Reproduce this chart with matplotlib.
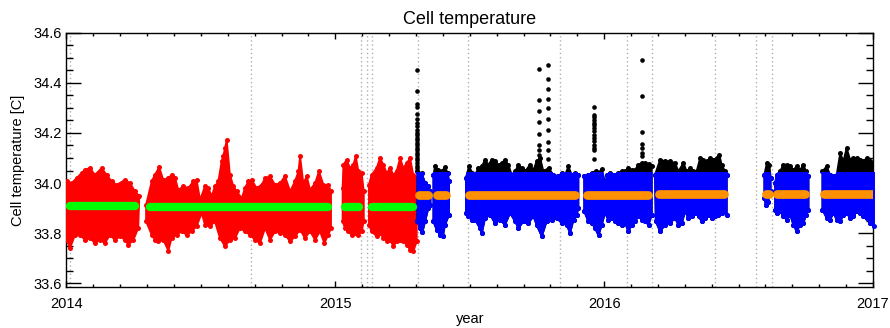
import numpy as np
import matplotlib
matplotlib.use("Agg")
from matplotlib import pyplot as plt
from matplotlib.patches import Rectangle
from matplotlib.ticker import MultipleLocator, FormatStrFormatter

plt.rcParams["font.family"] = ["Liberation Sans", "DejaVu Sans"]

# --- red period (2014 - mid 2015): upper / lower envelope of the scatter ---
r1_t_hi = [2014.001, 2014.019, 2014.038, 2014.056, 2014.069, 2014.087, 2014.106, 2014.131,
           2014.149, 2014.168, 2014.187, 2014.218, 2014.236, 2014.255, 2014.271]
r1_hi = [34.009, 34.000, 34.020, 34.040, 34.053, 34.060, 34.033, 34.060,
         34.033, 34.007, 33.993, 34.013, 34.000, 33.967, 33.947]
r1_t_lo = [2014.001, 2014.013, 2014.032, 2014.050, 2014.069, 2014.087, 2014.106, 2014.125,
           2014.143, 2014.162, 2014.180, 2014.199, 2014.218, 2014.230, 2014.249, 2014.267]
r1_lo = [33.773, 33.740, 33.793, 33.793, 33.773, 33.780, 33.760, 33.773,
         33.760, 33.793, 33.773, 33.787, 33.773, 33.753, 33.773, 33.820]

r2_t_hi = [2014.296, 2014.317, 2014.329, 2014.345, 2014.360, 2014.379, 2014.391, 2014.404,
           2014.416, 2014.435, 2014.453, 2014.472, 2014.484, 2014.497, 2014.515, 2014.528,
           2014.540, 2014.552, 2014.565, 2014.577, 2014.583, 2014.590, 2014.596, 2014.608,
           2014.621, 2014.633, 2014.652, 2014.664, 2014.676, 2014.689, 2014.707, 2014.726,
           2014.739, 2014.757, 2014.776, 2014.794, 2014.813, 2014.832, 2014.850, 2014.863,
           2014.869, 2014.881, 2014.894, 2014.906, 2014.925, 2014.939, 2014.956, 2014.974,
           2014.984]
r2_hi = [33.913, 34.007, 34.033, 34.063, 34.013, 34.020, 34.033, 34.020,
         33.973, 33.987, 33.980, 34.007, 34.013, 33.933, 33.987, 33.980,
         33.947, 33.987, 34.007, 34.087, 34.107, 34.140, 34.173, 34.033,
         33.987, 33.967, 33.940, 33.980, 34.007, 34.013, 33.980, 33.993,
         34.020, 34.027, 33.993, 34.000, 34.027, 33.967, 34.007, 34.047,
         34.107, 34.000, 34.027, 33.973, 34.000, 34.047, 33.993, 33.993,
         33.967]
r2_t_lo = [2014.296, 2014.317, 2014.329, 2014.342, 2014.360, 2014.379, 2014.391, 2014.410,
           2014.428, 2014.447, 2014.466, 2014.484, 2014.503, 2014.515, 2014.534, 2014.552,
           2014.571, 2014.590, 2014.608, 2014.627, 2014.645, 2014.664, 2014.683, 2014.701,
           2014.720, 2014.739, 2014.757, 2014.776, 2014.794, 2014.813, 2014.832, 2014.850,
           2014.869, 2014.887, 2014.906, 2014.925, 2014.943, 2014.959, 2014.974, 2014.984]
r2_lo = [33.847, 33.793, 33.773, 33.767, 33.773, 33.730, 33.780, 33.793,
         33.807, 33.793, 33.807, 33.827, 33.880, 33.833, 33.827, 33.847,
         33.780, 33.747, 33.773, 33.780, 33.820, 33.807, 33.793, 33.773,
         33.760, 33.820, 33.773, 33.807, 33.800, 33.793, 33.767, 33.787,
         33.813, 33.780, 33.807, 33.773, 33.807, 33.760, 33.793, 33.820]

r3_t_hi = [2015.027, 2015.030, 2015.042, 2015.055, 2015.067, 2015.076, 2015.086, 2015.098, 2015.106]
r3_hi = [33.980, 34.073, 34.093, 34.060, 34.073, 34.107, 34.047, 34.040, 33.967]
r3_t_lo = [2015.027, 2015.036, 2015.048, 2015.061, 2015.073, 2015.086, 2015.098, 2015.106]
r3_lo = [33.847, 33.820, 33.807, 33.793, 33.800, 33.793, 33.807, 33.847]

r4_t = [2015.125, 2015.135, 2015.154, 2015.166, 2015.179, 2015.191, 2015.204, 2015.216,
        2015.228, 2015.241, 2015.253, 2015.266, 2015.278, 2015.290, 2015.303]
r4_hi = [33.993, 34.033, 34.060, 34.100, 34.073, 34.040, 34.060, 34.033,
         34.047, 34.100, 34.060, 34.080, 34.100, 34.033, 34.020]
r4_lo = [33.833, 33.807, 33.787, 33.800, 33.780, 33.767, 33.773, 33.747,
         33.767, 33.773, 33.767, 33.753, 33.733, 33.727, 33.767]

# --- blue period (mid 2015 - 2017), upper envelope includes the black points ---
b1_t_hi = [2015.305, 2015.321, 2015.334, 2015.346, 2015.354]
b1_hi = [34.047, 34.040, 34.000, 33.987, 33.967]
b1_t_lo = [2015.305, 2015.315, 2015.324, 2015.334, 2015.346, 2015.354]
b1_lo = [33.847, 33.820, 33.804, 33.847, 33.900, 33.913]

b2_t_hi = [2015.365, 2015.371, 2015.383, 2015.396, 2015.408, 2015.418, 2015.423]
b2_hi = [34.033, 34.067, 34.053, 34.047, 34.063, 34.040, 34.007]
b2_t_lo = [2015.365, 2015.377, 2015.390, 2015.400, 2015.408, 2015.423]
b2_lo = [33.847, 33.813, 33.793, 33.787, 33.833, 33.873]

b3_t_hi = [2015.486, 2015.497, 2015.510, 2015.520, 2015.532, 2015.545, 2015.557, 2015.569,
           2015.582, 2015.594, 2015.607, 2015.619, 2015.631, 2015.644, 2015.656, 2015.669,
           2015.681, 2015.693, 2015.706, 2015.724, 2015.737, 2015.749, 2015.762, 2015.774,
           2015.793, 2015.811, 2015.830, 2015.842, 2015.855, 2015.867, 2015.879, 2015.892,
           2015.904]
b3_hi = [34.020, 34.067, 34.040, 34.033, 34.060, 34.067, 34.093, 34.073,
         34.093, 34.087, 34.073, 34.080, 34.093, 34.073, 34.033, 34.047,
         34.073, 34.060, 34.047, 34.073, 34.053, 34.087, 34.100, 34.047,
         34.060, 34.033, 34.027, 34.040, 34.033, 34.067, 34.033, 34.040,
         34.033]
b3_t_lo = [2015.486, 2015.495, 2015.507, 2015.520, 2015.538, 2015.545, 2015.557, 2015.576,
           2015.594, 2015.613, 2015.631, 2015.650, 2015.669, 2015.681, 2015.700, 2015.718,
           2015.737, 2015.749, 2015.768, 2015.786, 2015.805, 2015.824, 2015.842, 2015.861,
           2015.873, 2015.886, 2015.898, 2015.904]
b3_lo = [33.880, 33.867, 33.853, 33.853, 33.820, 33.800, 33.860, 33.873,
         33.840, 33.853, 33.833, 33.880, 33.847, 33.820, 33.847, 33.840,
         33.867, 33.833, 33.787, 33.847, 33.853, 33.860, 33.840, 33.833,
         33.800, 33.853, 33.873, 33.900]

b4_t_hi = [2015.926, 2015.941, 2015.954, 2015.970, 2015.979, 2015.991, 2016.003, 2016.012,
           2016.022, 2016.041, 2016.053, 2016.065, 2016.078, 2016.090, 2016.103, 2016.115,
           2016.127, 2016.140, 2016.152, 2016.165, 2016.177]
b4_hi = [34.027, 34.033, 34.040, 34.049, 34.040, 34.057, 34.000, 34.033,
         34.040, 34.033, 34.040, 34.047, 34.047, 34.060, 34.053, 34.053,
         34.073, 34.080, 34.080, 34.076, 34.067]
b4_t_lo = [2015.926, 2015.941, 2015.954, 2015.966, 2015.979, 2015.991, 2016.003, 2016.016,
           2016.028, 2016.041, 2016.053, 2016.065, 2016.078, 2016.090, 2016.103, 2016.115,
           2016.127, 2016.140, 2016.152, 2016.165, 2016.177]
b4_lo = [33.887, 33.847, 33.840, 33.820, 33.791, 33.833, 33.880, 33.853,
         33.860, 33.847, 33.840, 33.833, 33.840, 33.807, 33.833, 33.847,
         33.867, 33.853, 33.847, 33.833, 33.873]

b5_t_hi = [2016.189, 2016.208, 2016.227, 2016.245, 2016.264, 2016.276, 2016.295, 2016.307,
           2016.320, 2016.332, 2016.344, 2016.357, 2016.369, 2016.382, 2016.394, 2016.406,
           2016.419, 2016.429, 2016.437, 2016.450, 2016.456]
b5_hi = [34.033, 34.093, 34.087, 34.087, 34.080, 34.047, 34.080, 34.047,
         34.060, 34.047, 34.047, 34.100, 34.093, 34.087, 34.100, 34.093,
         34.100, 34.111, 34.073, 34.047, 34.033]
b5_t_lo = [2016.192, 2016.208, 2016.227, 2016.245, 2016.264, 2016.276, 2016.289, 2016.301,
           2016.313, 2016.326, 2016.338, 2016.351, 2016.363, 2016.375, 2016.388, 2016.400,
           2016.413, 2016.425, 2016.437, 2016.456]
b5_lo = [33.847, 33.807, 33.833, 33.840, 33.860, 33.833, 33.840, 33.887,
         33.860, 33.867, 33.880, 33.867, 33.847, 33.860, 33.873, 33.860,
         33.867, 33.873, 33.880, 33.873]

b6_t_hi = [2016.596, 2016.605, 2016.615, 2016.619]
b6_hi = [34.033, 34.080, 34.073, 34.020]
b6_t_lo = [2016.596, 2016.601, 2016.609, 2016.619]
b6_lo = [33.940, 33.913, 33.924, 33.967]

b7_t = [2016.636, 2016.642, 2016.654, 2016.667, 2016.679, 2016.692, 2016.704, 2016.716,
        2016.729, 2016.741, 2016.751, 2016.760]
b7_hi = [34.000, 34.033, 34.047, 34.073, 34.073, 34.067, 34.053, 34.067,
         34.053, 34.073, 34.047, 34.027]
b7_lo = [33.893, 33.880, 33.887, 33.867, 33.853, 33.873, 33.833, 33.807,
         33.833, 33.840, 33.873, 33.893]

b8_t = [2016.812, 2016.828, 2016.840, 2016.853, 2016.865, 2016.878, 2016.890, 2016.902,
        2016.915, 2016.927, 2016.940, 2016.952, 2016.964, 2016.977, 2016.989, 2017.004]
b8_hi = [34.047, 34.067, 34.033, 34.027, 34.033, 34.120, 34.087, 34.140,
         34.093, 34.100, 34.100, 34.093, 34.087, 34.100, 34.087, 34.080]
b8_lo = [33.893, 33.860, 33.853, 33.880, 33.853, 33.847, 33.873, 33.880,
         33.860, 33.867, 33.887, 33.880, 33.867, 33.860, 33.840, 33.827]

# points above this level are drawn black
BLACK_ABOVE = 34.045

# isolated outlier columns (black)
outlier_t = [2015.303, 2015.758, 2015.791, 2015.961, 2016.142]
outlier_v = [
    [34.450, 34.366, 34.317, 34.305, 34.275, 34.257, 34.240, 34.226, 34.213, 34.200, 34.190,
     34.180, 34.170, 34.160, 34.150, 34.140, 34.130, 34.120, 34.110, 34.100, 34.090, 34.080,
     34.070, 34.060],
    [34.456, 34.333, 34.289, 34.243, 34.196, 34.153, 34.133, 34.113, 34.093],
    [34.473, 34.416, 34.376, 34.337, 34.300, 34.257, 34.213, 34.162, 34.130, 34.096],
    [34.302, 34.273, 34.264, 34.253, 34.240, 34.230, 34.220, 34.206, 34.193, 34.180, 34.166,
     34.153, 34.140, 34.133, 34.096],
    [34.493, 34.349, 34.204, 34.157, 34.140, 34.120, 34.106],
]

# segment means
green_t0 = [2014.012, 2014.311, 2015.036, 2015.138]
green_t1 = [2014.256, 2014.972, 2015.089, 2015.288]
green_v = [33.907, 33.906, 33.904, 33.903]
orange_t0 = [2015.311, 2015.377, 2015.498, 2015.935, 2016.204, 2016.602, 2016.642, 2016.818]
orange_t1 = [2015.343, 2015.413, 2015.893, 2016.164, 2016.446, 2016.612, 2016.747, 2017.020]
orange_v = [33.951, 33.951, 33.953, 33.954, 33.955, 33.957, 33.957, 33.958]

# dotted markers of instrument events
event_t = [2014.013, 2014.685, 2015.096, 2015.117, 2015.138, 2015.307, 2015.493, 2015.836,
           2016.086, 2016.179, 2016.414, 2016.565, 2016.626]


def band(ax, t_hi, hi, t_lo, lo, color, clip_top=None, z=3):
    xs = np.concatenate([t_hi, t_lo[::-1]])
    ys = np.concatenate([hi, lo[::-1]])
    poly = ax.fill(xs, ys, facecolor=color, edgecolor=color, lw=1.3, zorder=z)[0]
    # dots at the envelope vertices, like the tips of the scattered points
    dots = ax.plot(xs, ys, "o", ms=3.6, color=color, mec="none", zorder=z)[0]
    if clip_top is not None:
        for art in (poly, dots):
            rect = Rectangle((2013.0, 33.0), 5.0, clip_top - 33.0, transform=ax.transData)
            art.set_clip_path(rect)
    return poly


fig = plt.figure(figsize=(8.9, 3.28), dpi=100)
ax = fig.add_axes([0.0747, 0.1241, 0.9062, 0.7762])

for t in event_t:
    ax.axvline(t, color="#b0b0b0", ls=(0, (1, 2)), lw=1, zorder=1)

red = [(r1_t_hi, r1_hi, r1_t_lo, r1_lo), (r2_t_hi, r2_hi, r2_t_lo, r2_lo),
       (r3_t_hi, r3_hi, r3_t_lo, r3_lo), (r4_t, r4_hi, r4_t, r4_lo)]
for t_hi, hi, t_lo, lo in red:
    band(ax, np.array(t_hi), np.array(hi), np.array(t_lo), np.array(lo), "#ff0000")

blue = [(b1_t_hi, b1_hi, b1_t_lo, b1_lo), (b2_t_hi, b2_hi, b2_t_lo, b2_lo),
        (b3_t_hi, b3_hi, b3_t_lo, b3_lo), (b4_t_hi, b4_hi, b4_t_lo, b4_lo),
        (b5_t_hi, b5_hi, b5_t_lo, b5_lo), (b6_t_hi, b6_hi, b6_t_lo, b6_lo),
        (b7_t, b7_hi, b7_t, b7_lo), (b8_t, b8_hi, b8_t, b8_lo)]
for t_hi, hi, t_lo, lo in blue:
    args = (np.array(t_hi), np.array(hi), np.array(t_lo), np.array(lo))
    band(ax, *args, "black", z=3)
    band(ax, *args, "#0000ff", clip_top=BLACK_ABOVE, z=4)

for t, vals in zip(outlier_t, outlier_v):
    ax.plot(np.full(len(vals), t), vals, "o", ms=3.3, color="black", mec="none", zorder=4)

for t0, t1, v in zip(green_t0, green_t1, green_v):
    ax.plot([t0, t1], [v, v], color="#00ff00", lw=6, solid_capstyle="round", zorder=6)
for t0, t1, v in zip(orange_t0, orange_t1, orange_v):
    ax.plot([t0, t1], [v, v], color="#ff9000", lw=6.3, solid_capstyle="round", zorder=6)

ax.set_xlim(2014, 2017)
ax.set_ylim(33.584, 34.6)
ax.xaxis.set_major_locator(MultipleLocator(1))
ax.xaxis.set_minor_locator(MultipleLocator(0.1))
ax.xaxis.set_major_formatter(FormatStrFormatter("%d"))
ax.yaxis.set_major_locator(MultipleLocator(0.2))
ax.yaxis.set_minor_locator(MultipleLocator(0.05))
ax.yaxis.set_major_formatter(FormatStrFormatter("%.1f"))

ax.tick_params(axis="both", which="both", direction="in", top=True, right=True,
               labelsize=10.5, width=1)
ax.tick_params(axis="y", which="major", length=10.8, pad=3.5)
ax.tick_params(axis="y", which="minor", length=5)
ax.tick_params(axis="x", which="major", length=4.3, pad=7)
ax.tick_params(axis="x", which="minor", length=2.4)
for s in ax.spines.values():
    s.set_linewidth(1)

ax.set_title("Cell temperature", fontsize=13, pad=6)
ax.set_xlabel("year", fontsize=10.5, labelpad=1)
ax.set_ylabel("Cell temperature [C]", fontsize=10.5, labelpad=6)

fig.savefig("out.png", dpi=100)
